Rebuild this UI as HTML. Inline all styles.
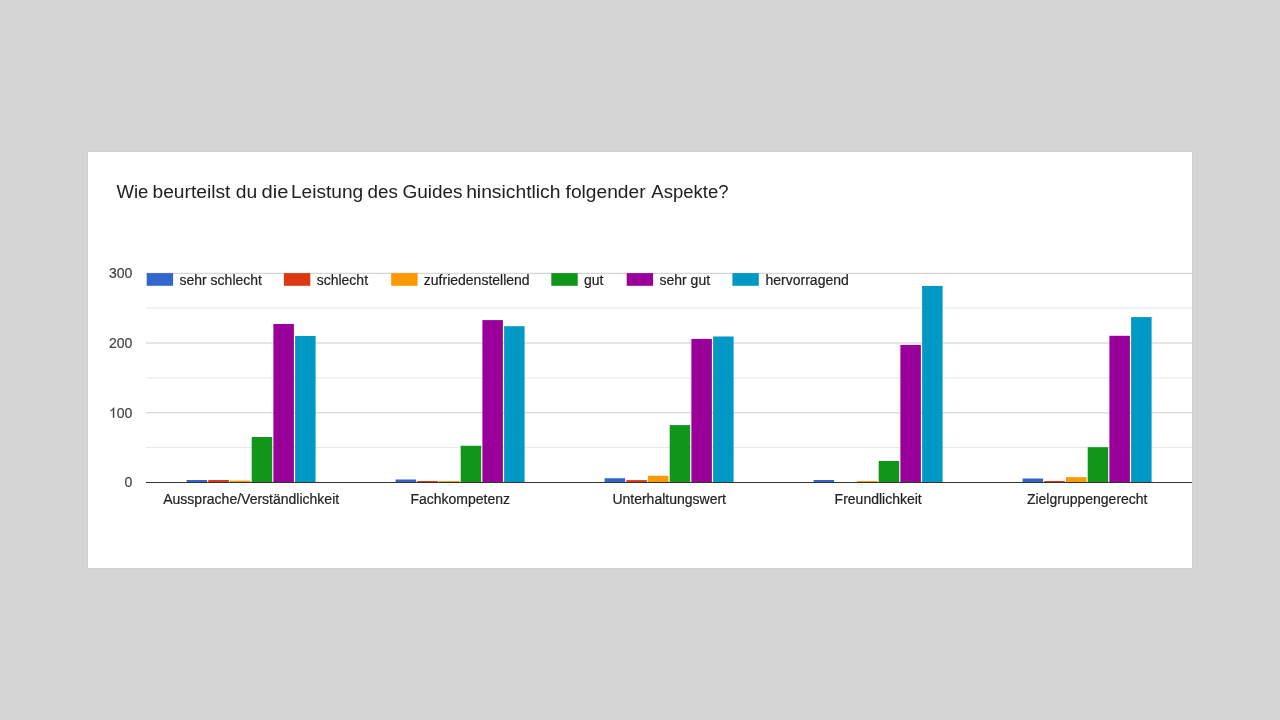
<!DOCTYPE html>
<html><head><meta charset="utf-8"><style>
html,body{margin:0;padding:0;background:#d5d5d5;width:1280px;height:720px;overflow:hidden}
svg{position:absolute;left:0;top:0;display:block;will-change:transform}
text{font-family:"Liberation Sans",sans-serif}
.ax{font-size:14px;fill:#444444;stroke:#444444;stroke-width:0.2px}
.xl{font-size:14px;fill:#222222;stroke:#222222;stroke-width:0.2px}
.lg{font-size:14px;fill:#222222;stroke:#222222;stroke-width:0.2px}
.ti{font-size:18.3px;fill:#202124}
</style></head><body>
<svg width="1280" height="720" viewBox="0 0 1280 720">
<rect x="87" y="151" width="1106" height="418" fill="#d0d0d0"/>
<rect x="88" y="152" width="1104" height="416" fill="#ffffff"/>
<text x="116.41" y="198.0" class="ti" textLength="31.97" lengthAdjust="spacingAndGlyphs">Wie</text><text x="152.50" y="198.0" class="ti" textLength="77.95" lengthAdjust="spacingAndGlyphs">beurteilst</text><text x="235.83" y="198.0" class="ti" textLength="21.47" lengthAdjust="spacingAndGlyphs">du</text><text x="261.49" y="198.0" class="ti" textLength="26.90" lengthAdjust="spacingAndGlyphs">die</text><text x="290.97" y="198.0" class="ti" textLength="72.29" lengthAdjust="spacingAndGlyphs">Leistung</text><text x="367.55" y="198.0" class="ti" textLength="30.36" lengthAdjust="spacingAndGlyphs">des</text><text x="402.45" y="198.0" class="ti" textLength="60.19" lengthAdjust="spacingAndGlyphs">Guides</text><text x="466.15" y="198.0" class="ti" textLength="94.33" lengthAdjust="spacingAndGlyphs">hinsichtlich</text><text x="565.61" y="198.0" class="ti" textLength="79.97" lengthAdjust="spacingAndGlyphs">folgender</text><text x="651.30" y="198.0" class="ti" textLength="77.24" lengthAdjust="spacingAndGlyphs">Aspekte?</text>
<rect x="146.0" y="307.60" width="1046.0" height="1" fill="#e6e6e6"/><rect x="146.0" y="377.40" width="1046.0" height="1" fill="#e6e6e6"/><rect x="146.0" y="447.10" width="1046.0" height="1" fill="#e6e6e6"/><rect x="146.0" y="272.80" width="1046.0" height="1" fill="#cccccc"/><rect x="146.0" y="342.50" width="1046.0" height="1" fill="#cccccc"/><rect x="146.0" y="412.30" width="1046.0" height="1" fill="#cccccc"/>
<rect x="186.60" y="480.00" width="20.50" height="2.50" fill="#3366cc"/><rect x="208.30" y="480.00" width="20.50" height="2.50" fill="#dc3912"/><rect x="230.00" y="480.60" width="20.50" height="1.90" fill="#ff9900"/><rect x="251.70" y="437.00" width="20.50" height="45.50" fill="#109618"/><rect x="273.40" y="324.00" width="20.50" height="158.50" fill="#990099"/><rect x="295.10" y="336.00" width="20.50" height="146.50" fill="#0099c6"/><rect x="395.60" y="479.50" width="20.50" height="3.00" fill="#3366cc"/><rect x="417.30" y="481.00" width="20.50" height="1.50" fill="#dc3912"/><rect x="439.00" y="481.00" width="20.50" height="1.50" fill="#ff9900"/><rect x="460.70" y="445.75" width="20.50" height="36.75" fill="#109618"/><rect x="482.40" y="320.10" width="20.50" height="162.40" fill="#990099"/><rect x="504.10" y="326.20" width="20.50" height="156.30" fill="#0099c6"/><rect x="604.60" y="478.20" width="20.50" height="4.30" fill="#3366cc"/><rect x="626.30" y="480.10" width="20.50" height="2.40" fill="#dc3912"/><rect x="648.00" y="475.80" width="20.50" height="6.70" fill="#ff9900"/><rect x="669.70" y="425.10" width="20.50" height="57.40" fill="#109618"/><rect x="691.40" y="338.90" width="20.50" height="143.60" fill="#990099"/><rect x="713.10" y="336.50" width="20.50" height="146.00" fill="#0099c6"/><rect x="813.60" y="480.00" width="20.50" height="2.50" fill="#3366cc"/><rect x="857.00" y="481.00" width="20.50" height="1.50" fill="#ff9900"/><rect x="878.70" y="461.00" width="20.50" height="21.50" fill="#109618"/><rect x="900.40" y="344.90" width="20.50" height="137.60" fill="#990099"/><rect x="922.10" y="285.90" width="20.50" height="196.60" fill="#0099c6"/><rect x="1022.60" y="478.50" width="20.50" height="4.00" fill="#3366cc"/><rect x="1044.30" y="481.00" width="20.50" height="1.50" fill="#dc3912"/><rect x="1066.00" y="477.20" width="20.50" height="5.30" fill="#ff9900"/><rect x="1087.70" y="447.20" width="20.50" height="35.30" fill="#109618"/><rect x="1109.40" y="335.80" width="20.50" height="146.70" fill="#990099"/><rect x="1131.10" y="317.10" width="20.50" height="165.40" fill="#0099c6"/>
<rect x="146.0" y="482" width="1046.0" height="1" fill="#333333"/>
<text x="132.3" y="278.20" text-anchor="end" class="ax">300</text><text x="132.3" y="347.90" text-anchor="end" class="ax">200</text><text x="132.3" y="417.70" text-anchor="end" class="ax">00</text><path d="M 114.157 417.700 L 112.927 417.700 L 112.927 409.859 C 112.633 410.139 112.243 410.427 111.765 410.707 C 111.279 410.987 110.849 411.199 110.466 411.343 L 110.466 410.153 C 111.156 409.832 111.758 409.435 112.271 408.977 C 112.783 408.519 113.146 408.068 113.358 407.637 L 114.157 407.637 Z" fill="#444444" stroke="#444444" stroke-width="0.2"/><text x="132.3" y="487.40" text-anchor="end" class="ax">0</text>
<text x="251.20" y="503.5" text-anchor="middle" class="xl">Aussprache/Verständlichkeit</text><text x="460.20" y="503.5" text-anchor="middle" class="xl">Fachkompetenz</text><text x="669.20" y="503.5" text-anchor="middle" class="xl">Unterhaltungswert</text><text x="878.20" y="503.5" text-anchor="middle" class="xl">Freundlichkeit</text><text x="1087.20" y="503.5" text-anchor="middle" class="xl">Zielgruppengerecht</text>
<rect x="146.7" y="273.1" width="26.4" height="12.7" fill="#3366cc"/><text x="179.5" y="284.75" class="lg">sehr schlecht</text><rect x="283.9" y="273.1" width="26.4" height="12.7" fill="#dc3912"/><text x="316.7" y="284.75" class="lg">schlecht</text><rect x="391.2" y="273.1" width="26.4" height="12.7" fill="#ff9900"/><text x="423.8" y="284.75" class="lg">zufriedenstellend</text><rect x="551.3" y="273.1" width="26.4" height="12.7" fill="#109618"/><text x="584.0" y="284.75" class="lg">gut</text><rect x="626.7" y="273.1" width="26.4" height="12.7" fill="#990099"/><text x="659.5" y="284.75" class="lg">sehr gut</text><rect x="732.4" y="273.1" width="26.4" height="12.7" fill="#0099c6"/><text x="765.5" y="284.75" class="lg">hervorragend</text>
</svg>
</body></html>
